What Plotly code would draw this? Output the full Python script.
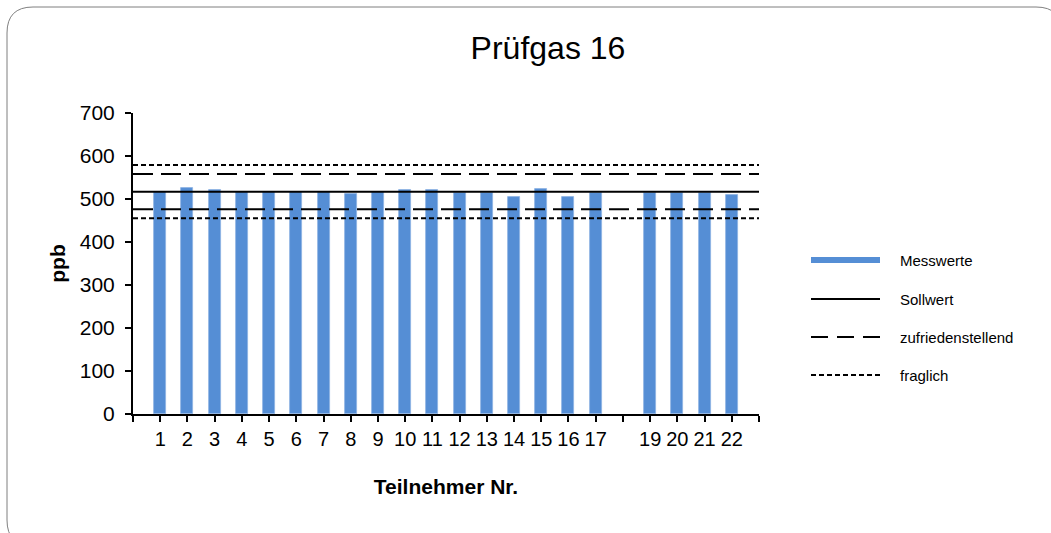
import plotly.graph_objects as go

# ---- data ----
participants = [1, 2, 3, 4, 5, 6, 7, 8, 9, 10, 11, 12, 13, 14, 15, 16, 17, 19, 20, 21, 22]
messwerte = [516, 526, 521, 516, 516, 516, 516, 512, 516, 521, 521, 515, 515, 504, 523, 504, 514, 515, 515, 515, 510]
sollwert = 517
zufrieden_low, zufrieden_high = 476, 558
fraglich_low, fraglich_high = 455, 579
x_range = [0, 23]
tick_positions = list(range(0, 24))
tick_labels = ["" if (t == 0 or t == 23 or t not in participants) else str(t) for t in tick_positions]
legend_names = ["Messwerte", "Sollwert", "zufriedenstellend", "fraglich"]

W, H = 1051, 533
L, R, T, B = 133, 292, 113, 119
PW, PH = W - L - R, H - T - B

def px(x):
    return (x - L) / PW

def py(y):
    return (H - B - y) / PH

FONT = "Liberation Sans, Arial, sans-serif"
BAR_COLOR = "#558ED5"

fig = go.Figure()
fig.add_trace(go.Bar(x=participants, y=messwerte, width=0.44, marker=dict(color=BAR_COLOR, line=dict(color="#8DB3E2", width=0.8)),
                     name=legend_names[0], showlegend=False))
line_specs = [
    (sollwert, "solid", legend_names[1]),
    (zufrieden_high, "20px,8px", legend_names[2]),
    (zufrieden_low, "20px,8px", legend_names[2]),
    (fraglich_high, "5px,3px", legend_names[3]),
    (fraglich_low, "5px,3px", legend_names[3]),
]
for val, dash, nm in line_specs:
    fig.add_trace(go.Scatter(x=x_range, y=[val, val], mode="lines", line=dict(color="black", width=2, dash=dash),
                             name=nm, showlegend=False, hoverinfo="skip"))

shapes = []
# rounded outer frame
x0, y0, x1, y1, r = 7, 7, 1062, 546, 26
rx, ry = r / PW, r / PH
path = (f"M {px(x0)+rx} {py(y0)} L {px(x1)-rx} {py(y0)} Q {px(x1)} {py(y0)} {px(x1)} {py(y0)-ry} "
        f"L {px(x1)} {py(y1)+ry} Q {px(x1)} {py(y1)} {px(x1)-rx} {py(y1)} "
        f"L {px(x0)+rx} {py(y1)} Q {px(x0)} {py(y1)} {px(x0)} {py(y1)+ry} "
        f"L {px(x0)} {py(y0)-ry} Q {px(x0)} {py(y0)} {px(x0)+rx} {py(y0)} Z")
shapes.append(dict(type="path", xref="paper", yref="paper", path=path, line=dict(color="#7f7f7f", width=1)))

# manual legend
lx0, lx1, tx = 811, 880, 898
rows = [260, 299, 337, 375]
shapes.append(dict(type="rect", xref="paper", yref="paper", x0=px(lx0), x1=px(lx1), y0=py(rows[0] - 3), y1=py(rows[0] + 3),
                   fillcolor=BAR_COLOR, line=dict(width=0)))
for yy, dash in zip(rows[1:], ["solid", "17px,9px", "5px,3px"]):
    shapes.append(dict(type="line", xref="paper", yref="paper", x0=px(lx0), x1=px(lx1), y0=py(yy), y1=py(yy),
                       line=dict(color="black", width=2, dash=dash)))
annotations = []
for yy, nm in zip(rows, legend_names):
    annotations.append(dict(xref="paper", yref="paper", x=px(tx), y=py(yy), text=nm, showarrow=False,
                            xanchor="left", yanchor="middle", font=dict(family=FONT, size=15, color="black")))

fig.update_layout(
    width=W, height=H,
    margin=dict(l=L, r=R, t=T, b=B, autoexpand=False),
    paper_bgcolor="white", plot_bgcolor="white",
    font=dict(family=FONT, color="black"),
    title=dict(text="Prüfgas 16", x=548 / W, xref="container", xanchor="center", y=1 - 48 / H, yref="container",
               yanchor="middle", font=dict(family=FONT, size=32, color="black")),
    shapes=shapes, annotations=annotations,
    showlegend=False,
    bargap=0,
)
fig.update_xaxes(range=x_range, tickmode="array", tickvals=tick_positions, ticktext=tick_labels,
                 ticks="outside", ticklen=6, tickwidth=1.5, tickcolor="black",
                 showline=True, linecolor="black", linewidth=2, showgrid=False, zeroline=False,
                 tickfont=dict(family=FONT, size=20, color="black"),
                 title=dict(text="<b>Teilnehmer Nr.</b>", standoff=30, font=dict(family=FONT, size=21, color="black")))
fig.update_yaxes(range=[0, 700], dtick=100, ticks="outside", ticklen=6, tickwidth=1.5, tickcolor="black",
                 showline=True, linecolor="black", linewidth=2, showgrid=False, zeroline=False,
                 ticklabelstandoff=6,
                 tickfont=dict(family=FONT, size=21, color="black"),
                 title=dict(text="<b>ppb</b>", standoff=8, font=dict(family=FONT, size=21, color="black")))

fig.write_html("out.html", config={"displayModeBar": False},
               post_script="document.body.style.margin='0px';")
